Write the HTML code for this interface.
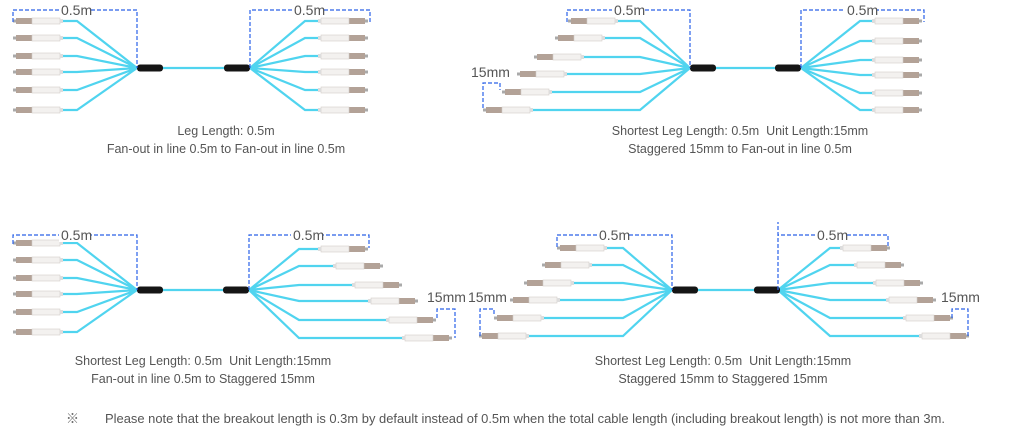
<!DOCTYPE html>
<html><head><meta charset="utf-8"><style>
html,body{margin:0;padding:0;background:#fff;}
svg{display:block;font-family:"Liberation Sans",sans-serif;}
.f{fill:none;stroke:#50d4ef;stroke-width:2.2;}
.d{fill:none;stroke:#2a62e8;stroke-width:1.2;stroke-dasharray:4,2;}
.t{font-size:12.5px;fill:#555;text-anchor:middle;}
.l{font-size:14px;fill:#555;}
</style></head><body>
<svg width="1024" height="430" viewBox="0 0 1024 430">
<defs>
<g id="cL"><rect x="0" y="-1.5" width="3" height="3" fill="#aaa"/><rect x="3" y="-3" width="16" height="6" fill="#b3a297"/><rect x="19" y="-3" width="28" height="6" fill="#f3f1ef" stroke="#d2cdc8" stroke-width="0.6"/><rect x="47" y="-2" width="3" height="4" fill="#ddd"/></g>
<rect id="boot" x="0" y="-3.5" width="26" height="7" rx="3" fill="#151515"/>
</defs>

<!-- TOP LEFT -->
<g class="f">
<path d="M63,21H77L137,68M63,38H77L137,68M63,56H77L137,68M63,72H77L137,68M63,90H77L137,68M63,110H77L137,68"/>
<path d="M160,68H226"/>
<path d="M250,68L305,21H318M250,68L305,38H318M250,68L305,56H318M250,68L305,72H318M250,68L305,90H318M250,68L305,110H318"/>
</g>
<use href="#cL" x="13" y="21"/><use href="#cL" x="13" y="38"/><use href="#cL" x="13" y="56"/><use href="#cL" x="13" y="72"/><use href="#cL" x="13" y="90"/><use href="#cL" x="13" y="110"/>
<g transform="translate(368,0) scale(-1,1)"><use href="#cL" x="0" y="21"/><use href="#cL" x="0" y="38"/><use href="#cL" x="0" y="56"/><use href="#cL" x="0" y="72"/><use href="#cL" x="0" y="90"/><use href="#cL" x="0" y="110"/></g>
<use href="#boot" x="137" y="68"/><use href="#boot" x="224" y="68"/>
<path class="d" d="M13,22V10H137V68M250,68V10H370V22"/>
<rect x="59" y="3" width="32" height="14" fill="#fff"/><text class="l" x="61" y="15">0.5m</text>
<rect x="292" y="3" width="32" height="14" fill="#fff"/><text class="l" x="294" y="15">0.5m</text>
<text class="t" x="226" y="135">Leg Length: 0.5m</text>
<text class="t" x="226" y="153">Fan-out in line 0.5m to Fan-out in line 0.5m</text>

<!-- TOP RIGHT -->
<g class="f">
<path d="M618,21H640L690,68M605,38H640L690,68M584,57H640L690,68M567,74H640L690,68M552,92H640L690,68M533,110H640L690,68"/>
<path d="M715,68H777"/>
<path d="M801,68L860,21H872M801,68L860,41H872M801,68L860,60H872M801,68L860,75H872M801,68L860,93H872M801,68L860,110H872"/>
</g>
<use href="#cL" x="568" y="21"/><use href="#cL" x="555" y="38"/><use href="#cL" x="534" y="57"/><use href="#cL" x="517" y="74"/><use href="#cL" x="502" y="92"/><use href="#cL" x="483" y="110"/>
<g transform="translate(922,0) scale(-1,1)"><use href="#cL" x="0" y="21"/><use href="#cL" x="0" y="41"/><use href="#cL" x="0" y="60"/><use href="#cL" x="0" y="75"/><use href="#cL" x="0" y="93"/><use href="#cL" x="0" y="110"/></g>
<use href="#boot" x="690" y="68"/><use href="#boot" x="775" y="68"/>
<path class="d" d="M567,22V10H690V68M801,68V10H924V22M483,108V83H500V90"/>
<rect x="612" y="3" width="32" height="14" fill="#fff"/><text class="l" x="614" y="15">0.5m</text>
<rect x="845" y="3" width="32" height="14" fill="#fff"/><text class="l" x="847" y="15">0.5m</text>
<text class="l" x="471" y="77">15mm</text>
<text class="t" x="740" y="135">Shortest Leg Length: 0.5m&#160; Unit Length:15mm</text>
<text class="t" x="740" y="153">Staggered 15mm to Fan-out in line 0.5m</text>

<!-- BOTTOM LEFT -->
<g class="f">
<path d="M63,243H77L137,290M63,260H77L137,290M63,278H77L137,290M63,294H77L137,290M63,312H77L137,290M63,332H77L137,290"/>
<path d="M160,290H226"/>
<path d="M249,290L299,249H318M249,290L299,266H333M249,290L299,285H352M249,290L299,301H368M249,290L299,320H386M249,290L299,338H402"/>
</g>
<use href="#cL" x="13" y="243"/><use href="#cL" x="13" y="260"/><use href="#cL" x="13" y="278"/><use href="#cL" x="13" y="294"/><use href="#cL" x="13" y="312"/><use href="#cL" x="13" y="332"/>
<use href="#cL" transform="translate(368,249) scale(-1,1)"/><use href="#cL" transform="translate(383,266) scale(-1,1)"/><use href="#cL" transform="translate(402,285) scale(-1,1)"/><use href="#cL" transform="translate(418,301) scale(-1,1)"/><use href="#cL" transform="translate(436,320) scale(-1,1)"/><use href="#cL" transform="translate(452,338) scale(-1,1)"/>
<use href="#boot" x="137" y="290"/><use href="#boot" x="223" y="290"/>
<path class="d" d="M13,244V235H137V290M249,290V235H369V248M437,318V309H455V338"/>
<rect x="59" y="228" width="32" height="14" fill="#fff"/><text class="l" x="61" y="240">0.5m</text>
<rect x="291" y="228" width="32" height="14" fill="#fff"/><text class="l" x="293" y="240">0.5m</text>
<text class="l" x="427" y="302">15mm</text>
<text class="t" x="203" y="365">Shortest Leg Length: 0.5m&#160; Unit Length:15mm</text>
<text class="t" x="203" y="383">Fan-out in line 0.5m to Staggered 15mm</text>

<!-- BOTTOM RIGHT -->
<g class="f">
<path d="M605,248H623L672,290M590,265H623L672,290M572,283H623L672,290M558,300H623L672,290M542,318H623L672,290M527,336H623L672,290"/>
<path d="M695,290H756"/>
<path d="M778,290L830,248H842M778,290L830,265H856M778,290L830,283H875M778,290L830,300H888M778,290L830,318H905M778,290L830,336H921"/>
</g>
<use href="#cL" x="557" y="248"/><use href="#cL" x="542" y="265"/><use href="#cL" x="524" y="283"/><use href="#cL" x="510" y="300"/><use href="#cL" x="494" y="318"/><use href="#cL" x="479" y="336"/>
<use href="#cL" transform="translate(890,248) scale(-1,1)"/><use href="#cL" transform="translate(904,265) scale(-1,1)"/><use href="#cL" transform="translate(923,283) scale(-1,1)"/><use href="#cL" transform="translate(936,300) scale(-1,1)"/><use href="#cL" transform="translate(953,318) scale(-1,1)"/><use href="#cL" transform="translate(969,336) scale(-1,1)"/>
<use href="#boot" x="672" y="290"/><use href="#boot" x="754" y="290"/>
<path class="d" d="M557,247V235H672V290M778,290V222V235H888V248M480,336V309H494V316M952,318V309H968V338"/>
<rect x="597" y="228" width="32" height="14" fill="#fff"/><text class="l" x="599" y="240">0.5m</text>
<rect x="815" y="228" width="32" height="14" fill="#fff"/><text class="l" x="817" y="240">0.5m</text>
<text class="l" x="468" y="302">15mm</text>
<text class="l" x="941" y="302">15mm</text>
<text class="t" x="723" y="365">Shortest Leg Length: 0.5m&#160; Unit Length:15mm</text>
<text class="t" x="723" y="383">Staggered 15mm to Staggered 15mm</text>

<text x="66" y="423" style="font-size:13px;fill:#666;font-family:'Liberation Sans','Noto Sans CJK JP',sans-serif">※</text>
<text x="105" y="423" style="font-size:13px;fill:#555" textLength="840" lengthAdjust="spacingAndGlyphs">Please note that the breakout length is 0.3m by default instead of 0.5m when the total cable length (including breakout length) is not more than 3m.</text>
</svg>
</body></html>
